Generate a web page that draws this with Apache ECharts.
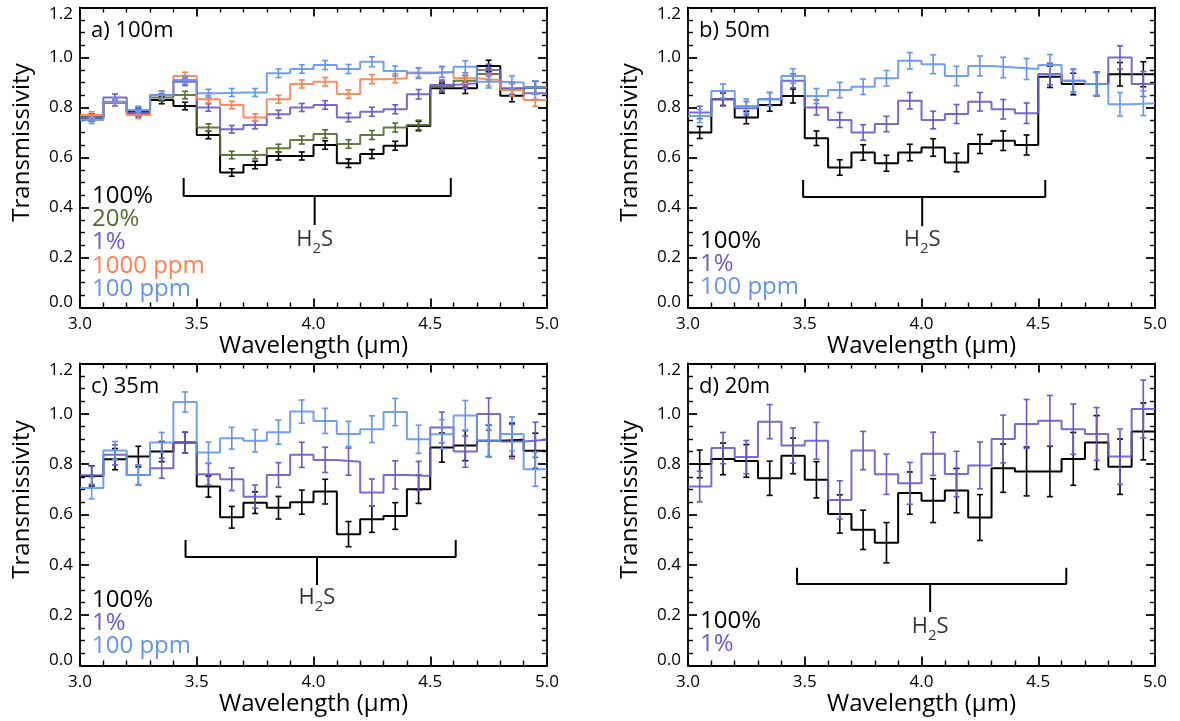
<!DOCTYPE html>
<html>
<head>
<meta charset="utf-8">
<script src="https://cdn.jsdelivr.net/npm/echarts@6/dist/echarts.min.js"></script>
<style>html,body{margin:0;padding:0;background:#fff;}#c{width:1180px;height:721px;}</style>
</head>
<body>
<div id="c"></div>
<script>
// ---------------- DATA ----------------
const wavelength = [3.05,3.15,3.25,3.35,3.45,3.55,3.65,3.75,3.85,3.95,4.05,4.15,4.25,4.35,4.45,4.55,4.65,4.75,4.85,4.95];
const binWidth = 0.1;

// a) 100m
const a_100pct  = [0.76,0.82,0.783,0.83,0.806,0.69,0.54,0.57,0.606,0.606,0.65,0.577,0.614,0.647,0.726,0.877,0.877,0.966,0.847,0.88];
const a_20pct   = [0.76,0.82,0.775,0.84,0.85,0.72,0.61,0.61,0.637,0.67,0.694,0.654,0.69,0.72,0.73,0.883,0.907,0.934,0.877,0.88];
const a_1pct    = [0.76,0.84,0.78,0.85,0.903,0.80,0.713,0.73,0.773,0.80,0.81,0.76,0.783,0.793,0.853,0.89,0.897,0.95,0.873,0.857];
const a_1000ppm = [0.77,0.82,0.77,0.85,0.926,0.833,0.81,0.76,0.833,0.894,0.903,0.854,0.913,0.917,0.94,0.94,0.917,0.91,0.87,0.83];
const a_100ppm  = [0.75,0.823,0.79,0.85,0.91,0.857,0.86,0.86,0.937,0.954,0.97,0.954,0.983,0.946,0.937,0.943,0.963,0.903,0.90,0.88];
const a_err_100pct  = [0.013,0.014,0.014,0.015,0.015,0.015,0.015,0.015,0.016,0.016,0.017,0.017,0.018,0.018,0.019,0.02,0.021,0.023,0.024,0.025];
const a_err_20pct   = [0.013,0.014,0.014,0.015,0.015,0.015,0.015,0.015,0.016,0.016,0.017,0.017,0.018,0.018,0.019,0.02,0.021,0.023,0.024,0.025];
const a_err_1pct    = [0.013,0.014,0.014,0.015,0.015,0.015,0.015,0.015,0.016,0.016,0.017,0.017,0.018,0.018,0.019,0.02,0.021,0.023,0.024,0.025];
const a_err_1000ppm = [0.013,0.014,0.014,0.015,0.015,0.015,0.015,0.015,0.016,0.016,0.017,0.017,0.018,0.018,0.019,0.02,0.021,0.023,0.024,0.025];
const a_err_100ppm  = [0.014,0.015,0.015,0.016,0.016,0.016,0.016,0.016,0.017,0.017,0.018,0.018,0.02,0.02,0.021,0.022,0.024,0.025,0.026,0.027];

// b) 50m
const b_100pct = [0.70,0.833,0.76,0.81,0.846,0.677,0.56,0.62,0.577,0.62,0.64,0.58,0.654,0.667,0.65,0.923,0.894,0.894,0.933,0.933];
const b_1pct   = [0.78,0.833,0.797,0.833,0.907,0.80,0.75,0.70,0.734,0.827,0.75,0.774,0.823,0.793,0.777,0.934,0.907,0.894,1.0,0.894];
const b_100ppm = [0.766,0.866,0.806,0.833,0.926,0.846,0.87,0.883,0.917,0.987,0.973,0.926,0.966,0.96,0.954,0.97,0.907,0.894,0.813,0.817];
const b_err_100pct = [0.024,0.025,0.025,0.025,0.028,0.029,0.031,0.031,0.032,0.033,0.035,0.037,0.038,0.039,0.04,0.043,0.043,0.047,0.047,0.05];
const b_err_1pct   = [0.025,0.027,0.027,0.027,0.028,0.03,0.03,0.031,0.031,0.033,0.035,0.038,0.037,0.039,0.041,0.043,0.045,0.046,0.047,0.05];
const b_err_100ppm = [0.026,0.028,0.028,0.027,0.029,0.03,0.031,0.031,0.031,0.033,0.038,0.039,0.04,0.041,0.042,0.042,0.047,0.046,0.047,0.049];

// c) 35m
const c_100pct = [0.753,0.82,0.83,0.85,0.886,0.711,0.589,0.647,0.627,0.649,0.691,0.522,0.581,0.594,0.70,0.866,0.874,0.893,0.897,0.853];
const c_1pct   = [0.756,0.837,0.757,0.784,0.886,0.76,0.74,0.671,0.757,0.837,0.817,0.81,0.687,0.757,0.753,0.946,0.85,0.999,0.89,0.897];
const c_100ppm = [0.705,0.854,0.757,0.886,1.047,0.846,0.903,0.893,0.927,1.009,0.972,0.92,0.939,1.007,0.899,0.919,0.993,0.893,0.92,0.78];
const c_err_100pct = [0.04,0.042,0.041,0.04,0.041,0.042,0.043,0.043,0.045,0.048,0.049,0.05,0.052,0.053,0.056,0.058,0.06,0.063,0.066,0.07];
const c_err_1pct   = [0.036,0.04,0.04,0.04,0.042,0.043,0.045,0.046,0.049,0.05,0.05,0.054,0.054,0.056,0.058,0.061,0.062,0.064,0.068,0.07];
const c_err_100ppm = [0.043,0.036,0.038,0.04,0.04,0.042,0.043,0.044,0.048,0.046,0.05,0.05,0.053,0.054,0.056,0.058,0.06,0.064,0.068,0.068];

// d) 20m
const d_100pct = [0.801,0.821,0.813,0.744,0.833,0.738,0.602,0.539,0.488,0.685,0.655,0.695,0.588,0.784,0.771,0.771,0.821,0.886,0.79,0.93];
const d_1pct   = [0.711,0.864,0.828,0.969,0.874,0.893,0.658,0.854,0.76,0.724,0.841,0.761,0.795,0.90,0.96,0.973,0.939,0.92,0.83,1.019];
const d_err_100pct = [0.055,0.063,0.065,0.068,0.071,0.072,0.076,0.078,0.08,0.084,0.087,0.088,0.091,0.096,0.097,0.1,0.105,0.107,0.11,0.113];
const d_err_1pct   = [0.061,0.062,0.066,0.068,0.07,0.073,0.076,0.076,0.08,0.083,0.086,0.09,0.093,0.095,0.097,0.1,0.1,0.105,0.11,0.115];

const panelTitles = ['a) 100m','b) 50m','c) 35m','d) 20m'];
const xAxisTitle = 'Wavelength (μm)';
const yAxisTitle = 'Transmissivity';

// ---------------- STYLE ----------------
const FONT = '"Open Sans"';
const COL = {
  '100%':'#000000', '20%':'#556b2f', '1%':'#6a5acd', '1000 ppm':'#ff7f50', '100 ppm':'#6495ed'
};

const panels = [
  { grid:{left:80, top:7.5, width:467, height:300},
    series:[['100%',a_100pct,a_err_100pct],['20%',a_20pct,a_err_20pct],['1%',a_1pct,a_err_1pct],['1000 ppm',a_1000ppm,a_err_1000ppm],['100 ppm',a_100ppm,a_err_100ppm]],
    legendY:196, bracket:{x1:3.444, x2:4.588, xc:4.005, yTop:0.518, yBar:0.446, yStem:0.33, yText:0.27} },
  { grid:{left:688, top:7.5, width:467, height:300},
    series:[['100%',b_100pct,b_err_100pct],['1%',b_1pct,b_err_1pct],['100 ppm',b_100ppm,b_err_100ppm]],
    legendY:241, bracket:{x1:3.493, x2:4.53, xc:4.003, yTop:0.51, yBar:0.442, yStem:0.325, yText:0.27} },
  { grid:{left:80, top:363.5, width:467, height:302},
    series:[['100%',c_100pct,c_err_100pct],['1%',c_1pct,c_err_1pct],['100 ppm',c_100ppm,c_err_100ppm]],
    legendY:600, bracket:{x1:3.452, x2:4.609, xc:4.015, yTop:0.499, yBar:0.431, yStem:0.32, yText:0.268} },
  { grid:{left:688, top:363.5, width:467, height:302},
    series:[['100%',d_100pct,d_err_100pct],['1%',d_1pct,d_err_1pct]],
    legendY:621, bracket:{x1:3.467, x2:4.62, xc:4.037, yTop:0.388, yBar:0.324, yStem:0.213, yText:0.153} }
];

// ---------------- BUILD ----------------
const grids=[], xAxes=[], yAxes=[], series=[], graphics=[];
const AX = {color:'#000', width:1.8};

function yLabel(v){
  const s = v.toFixed(1);
  if (Math.abs(v - 1.2) < 1e-6) return '{t|' + s + '}';
  if (Math.abs(v) < 1e-6) return '{b|' + s + '}';
  return s;
}

panels.forEach((p, i) => {
  grids.push(Object.assign({containLabel:false}, p.grid));
  const xb = xAxes.length;
  ['bottom','top'].forEach(pos => {
    xAxes.push({
      gridIndex:i, type:'value', min:3, max:5, interval:0.5, position:pos,
      axisLine:{show:true, onZero:false, lineStyle:AX},
      axisTick:{show:true, inside:true, length:9, lineStyle:AX},
      minorTick:{show:true, splitNumber:5, length:5, lineStyle:{color:'#000', width:1.4}},
      splitLine:{show:false},
      axisLabel:{show:pos==='bottom', formatter:v=>v.toFixed(1), fontSize:17, color:'#000', fontFamily:FONT, margin:8},
      name: pos==='bottom' ? xAxisTitle : '',
      nameLocation:'middle', nameGap:27,
      nameTextStyle:{fontSize:24, color:'#000', fontFamily:FONT}
    });
  });
  const yb = yAxes.length;
  ['left','right'].forEach(pos => {
    yAxes.push({
      gridIndex:i, type:'value', min:0, max:1.2, interval:0.2, position:pos,
      axisLine:{show:true, onZero:false, lineStyle:AX},
      axisTick:{show:true, inside:true, length:9, lineStyle:AX},
      minorTick:{show:true, splitNumber:4, length:5, lineStyle:{color:'#000', width:1.4}},
      splitLine:{show:false},
      axisLabel:{show:pos==='left', formatter:yLabel, fontSize:17, color:'#000', fontFamily:FONT, margin:7,
        rich:{t:{fontSize:17, fontFamily:FONT, color:'#000', padding:[13,0,0,0]},
              b:{fontSize:17, fontFamily:FONT, color:'#000', padding:[0,0,11,0]}}}
    });
  });

  // y-axis title (rotated)
  graphics.push({type:'text', x:p.grid.left - 58, y:p.grid.top + p.grid.height/2 - 15, rotation:Math.PI/2,
    style:{text:yAxisTitle, fill:'#000', fontSize:24, fontFamily:FONT, align:'center', verticalAlign:'middle'}});

  p.series.forEach(([name, vals, errs], k) => {
    const color = COL[name];
    const stepData = wavelength.map((w, j) => [w - binWidth/2, vals[j]]);
    stepData.push([wavelength[wavelength.length-1] + binWidth/2, vals[vals.length-1]]);
    series.push({
      type:'line', name, xAxisIndex:xb, yAxisIndex:yb, data:stepData, step:'end',
      symbol:'none', lineStyle:{color, width:2, opacity: name==='100%'?1:0.9}, z:3+k, clip:true, silent:true
    });
    series.push({
      type:'custom', xAxisIndex:xb, yAxisIndex:yb, z:3+k, silent:true,
      data: wavelength.map((w, j) => [w, vals[j], errs[j]]),
      encode:{x:0, y:1},
      renderItem:(params, api) => {
        const x = api.value(0), y = api.value(1), e = api.value(2);
        const t = api.coord([x, y+e]), b = api.coord([x, y-e]);
        const cap = 3;
        const st = {stroke:color, lineWidth:1.6};
        return {type:'group', children:[
          {type:'line', shape:{x1:t[0], y1:t[1], x2:b[0], y2:b[1]}, style:st},
          {type:'line', shape:{x1:t[0]-cap, y1:t[1], x2:t[0]+cap, y2:t[1]}, style:st},
          {type:'line', shape:{x1:b[0]-cap, y1:b[1], x2:b[0]+cap, y2:b[1]}, style:st}
        ]};
      }
    });
    // legend text
    graphics.push({type:'text', x:p.grid.left + 12, y:p.legendY + k*23.3,
      style:{text:name, fill:color, fontSize:24, fontFamily:FONT, align:'left', verticalAlign:'middle'}});
  });

  // H2S bracket
  const br = p.bracket;
  series.push({type:'line', xAxisIndex:xb, yAxisIndex:yb, symbol:'none', silent:true, z:10,
    lineStyle:{color:'#000', width:2},
    data:[[br.x1, br.yTop],[br.x1, br.yBar],[br.x2, br.yBar],[br.x2, br.yTop]]});
  series.push({type:'line', xAxisIndex:xb, yAxisIndex:yb, symbol:'none', silent:true, z:10,
    lineStyle:{color:'#000', width:2},
    data:[[br.xc, br.yBar],[br.xc, br.yStem]]});
  series.push({type:'scatter', xAxisIndex:xb, yAxisIndex:yb, symbolSize:0, silent:true, z:10,
    data:[[br.xc, br.yText]],
    label:{show:true, position:'inside', formatter:'{n|H}{s|2}{n|S}', color:'#000',
      rich:{n:{fontSize:22, fontFamily:FONT, color:'#000', lineHeight:26, verticalAlign:'middle'},
            s:{fontSize:15, fontFamily:FONT, color:'#000', lineHeight:26, verticalAlign:'bottom', padding:[0,0,-3,0]}}}});

  // panel title
  graphics.push({type:'text', x:p.grid.left + 11, y:p.grid.top + 23,
    style:{text:panelTitles[i], fill:'#000', fontSize:22, fontFamily:FONT, align:'left', verticalAlign:'middle'}});
});

const chart = echarts.init(document.getElementById('c'), null, {renderer:'canvas'});
chart.setOption({
  animation:false,
  backgroundColor:'#fff',
  grid:grids, xAxis:xAxes, yAxis:yAxes, series, graphic:graphics
});
</script>
</body>
</html>
